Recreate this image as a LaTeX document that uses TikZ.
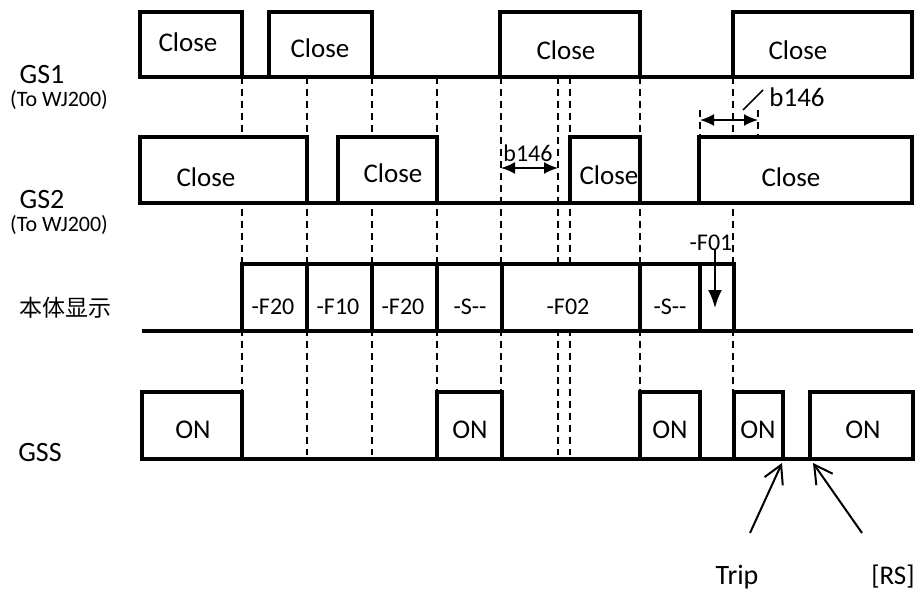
\documentclass[tikz,border=0pt]{standalone}
\usepackage{fontspec}
\setmainfont{Carlito}
\newfontfamily\cjk{Noto Sans CJK SC}
\usetikzlibrary{arrows.meta}

\begin{document}
\begin{tikzpicture}[
  x=0.5pt, y=-0.5pt,
  base/.style={line width=2pt},
  pulse/.style={line width=2pt, fill=white},
  guide/.style={line width=0.7pt, dash pattern=on 3.5pt off 2.5pt},
  sig/.style={font=\fontsize{14}{16}\selectfont},
  sub/.style={font=\fontsize{11}{13}\selectfont},
  lvl/.style={font=\fontsize{13.5}{15}\selectfont},
  code/.style={font=\fontsize{12}{14}\selectfont},
  dim/.style={{Latex[length=7pt,width=6pt]}-{Latex[length=7pt,width=6pt]}, line width=1pt},
  pick/.style={-{Straight Barb[length=9pt,width=10pt]}, line width=1pt},
]
  \useasboundingbox (0,0) rectangle (921,595);

  % guide lines
  \foreach \x/\y in {242/392, 307/455, 372/455, 437/392, 501/392,
                     558/455, 570/455, 640/392, 733/392}
    \draw[guide] (\x,77) -- (\x,\y);
  \draw[guide] (700,110) -- (700,137);
  \draw[guide] (758,110) -- (758,135);

  % GS1
  \draw[base] (140,77) -- (912,77);
  \foreach \a/\b in {140/242, 269/372, 500/640, 733/912}
    \draw[pulse] (\a,77) rectangle (\b,12);

  % GS2
  \draw[base] (140,203) -- (912,203);
  \foreach \a/\b in {140/307, 338/437, 570/640, 699/912}
    \draw[pulse] (\a,203) rectangle (\b,137);

  % display
  \draw[base] (142,331) -- (913,331);
  \foreach \a/\b in {242/307, 307/372, 372/437, 437/502, 502/640, 640/700, 700/734}
    \draw[pulse] (\a,331) rectangle (\b,264);

  % GSS
  \draw[base] (142,459) -- (913,459);
  \foreach \a/\b in {142/242, 437/502, 640/700, 734/783, 810/913}
    \draw[pulse] (\a,459) rectangle (\b,392);

  % signal names
  \node[sig] (gs1) at (42,75) {GS1};
  \node[sub] (gs1to) at (59,100) {(To WJ200)};
  \node[sig] (gs2) at (42,200) {GS2};
  \node[sub] (gs2to) at (59,225) {(To WJ200)};
  \node[font=\fontsize{11.5}{14}\selectfont] (disp) at (65,308) {\cjk 本体显示};
  \node[sig] (gss) at (40,453) {GSS};

  % levels
  \node[lvl] (c1) at (188,42) {Close};
  \node[lvl] (c2) at (320,48) {Close};
  \node[lvl] (c3) at (566,50) {Close};
  \node[lvl] (c4) at (798,50) {Close};
  \node[lvl] (d1) at (206,177) {Close};
  \node[lvl] (d2) at (393,173) {Close};
  \node[lvl] (d3) at (609,175) {Close};
  \node[lvl] (d4) at (791,177) {Close};

  \node[code] (e1) at (273,307) {-F20};
  \node[code] (e2) at (338,307) {-F10};
  \node[code] (e3) at (403,307) {-F20};
  \node[code] (e4) at (470,307) {-S-{}-};
  \node[code] (e5) at (568,307) {-F02};
  \node[code] (e6) at (670,307) {-S-{}-};

  \node[lvl] (o1) at (193,430) {ON};
  \node[lvl] (o2) at (470,430) {ON};
  \node[lvl] (o3) at (670,430) {ON};
  \node[lvl] (o4) at (758,430) {ON};
  \node[lvl] (o5) at (863,430) {ON};

  % -F01
  \node[code] (f01) at (711,243) {-F01};
  \coordinate (f01a) at (715,250);
  \coordinate (f01b) at (715,308);
  \draw[-{Latex[length=9pt,width=7pt]}, line width=1pt] (f01a) -- (f01b);

  % b146 delays
  \node[code] (dly1) at (528,153) {b146};
  \coordinate (dly1a) at (501,168);
  \coordinate (dly1b) at (558,168);
  \draw[dim] (dly1a) -- (dly1b);

  \node[lvl] (dly2) at (797,97) {b146};
  \coordinate (dly2a) at (700,120);
  \coordinate (dly2b) at (758,120);
  \draw[dim] (dly2a) -- (dly2b);
  \coordinate (lead1) at (743,110);
  \coordinate (lead2) at (763,90);
  \draw[line width=0.8pt] (lead1) -- (lead2);

  % trip and reset
  \node[sig] (trip) at (737,577) {Trip};
  \node[lvl] (rs) at (893,577) {[RS]};
  \coordinate (tripa) at (750,533);
  \coordinate (tripb) at (782,463);
  \coordinate (rsa) at (862,533);
  \coordinate (rsb) at (813,463);
  \draw[pick] (tripa) -- (tripb);
  \draw[pick] (rsa) -- (rsb);
\end{tikzpicture}
\end{document}
